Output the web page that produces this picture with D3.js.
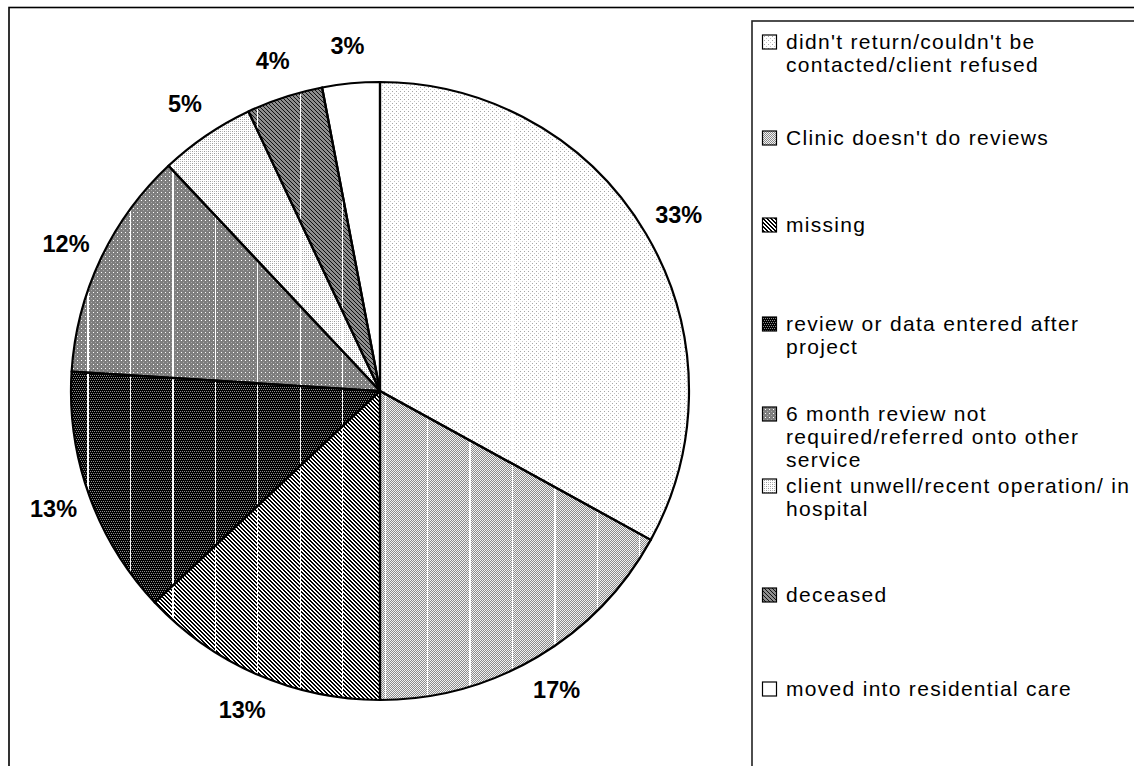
<!DOCTYPE html>
<html>
<head>
<meta charset="utf-8">
<script src="https://cdn.jsdelivr.net/npm/d3@7/dist/d3.min.js"></script>
<style>
  html, body { margin: 0; padding: 0; background: #fff; }
  svg { display: block; }
  text { font-family: "Liberation Sans", Arial, sans-serif; fill: #000; }
</style>
</head>
<body>
<svg id="chart" width="1134" height="766"></svg>
<script>
// Reasons a 6-month review did not take place (share of clients)
const categories = [
  "didn't return/couldn't be contacted/client refused",
  "Clinic doesn't do reviews",
  "missing",
  "review or data entered after project",
  "6 month review not required/referred onto other service",
  "client unwell/recent operation/ in hospital",
  "deceased",
  "moved into residential care"
];
const percents = [33, 17, 13, 13, 12, 5, 4, 3];
const labelText = ["33%", "17%", "13%", "13%", "12%", "5%", "4%", "3%"];
// Legend entries as wrapped on screen
const legendLines = [
  ["didn't return/couldn't be", "contacted/client refused"],
  ["Clinic doesn't do reviews"],
  ["missing"],
  ["review or data entered after", "project"],
  ["6 month review not", "required/referred onto other", "service"],
  ["client unwell/recent operation/ in", "hospital"],
  ["deceased"],
  ["moved into residential care"]
];

// ---- layout ----
const W = 1134, H = 766;
const cx = 380, cy = 391, R = 309;
const legendX = 752, legendY = 21;
const legendFirstBaseline = [49, 145, 232, 331, 421, 493, 602, 696];
const lineH = 23;

const svg = d3.select("#chart");
const defs = svg.append("defs");

// Monochrome pixel fills, one per category
const fills = [
  { size: 4, bg: "#ffffff", px: [[0,0,"#a4a4a4"],[2,2,"#c4c4c4"]] },
  { size: 2, bg: "#f2f2f2", px: [[0,0,"#8a8a8a"],[1,1,"#8a8a8a"]] },
  { size: 4, bg: "#ffffff", px: [[0,0,"#000"],[1,1,"#000"],[2,2,"#000"],[3,3,"#000"],
                                 [1,0,"#000"],[2,1,"#000"],[3,2,"#000"],[0,3,"#000"]] },
  { size: 4, bg: "#000000", px: [[0,0,"#8a8a8a"],[2,0,"#8a8a8a"],[1,2,"#8a8a8a"],[3,2,"#8a8a8a"]] },
  { size: 4, bg: "#7e7e7e", px: [[1,1,"#ffffff"],[3,3,"#a6a6a6"]] },
  { size: 4, bg: "#ffffff", px: [[0,0,"#9a9a9a"],[2,2,"#9a9a9a"],[2,0,"#c0c0c0"],[0,2,"#c0c0c0"]] },
  { size: 4, bg: "#8e8e8e", px: [[0,0,"#111"],[1,1,"#111"],[2,2,"#111"],[3,3,"#111"]] },
  { size: 4, bg: "#ffffff", px: [] }
];

fills.forEach((f, i) => {
  const p = defs.append("pattern")
    .attr("id", "fill" + i)
    .attr("patternUnits", "userSpaceOnUse")
    .attr("width", f.size).attr("height", f.size);
  p.append("rect").attr("width", f.size).attr("height", f.size)
    .attr("fill", f.bg).attr("shape-rendering", "crispEdges");
  f.px.forEach(([x, y, c]) => {
    p.append("rect").attr("x", x).attr("y", y).attr("width", 1).attr("height", 1)
      .attr("fill", c).attr("shape-rendering", "crispEdges");
  });
});

// Chart frame and legend frame (both run past the visible area)
svg.append("rect")
  .attr("x", 9).attr("y", 7.5).attr("width", W + 20).attr("height", H + 20)
  .attr("fill", "none").attr("stroke", "#000").attr("stroke-width", 1.6);
svg.append("rect")
  .attr("x", legendX).attr("y", legendY).attr("width", W).attr("height", H)
  .attr("fill", "#fff").attr("stroke", "#222").attr("stroke-width", 1.6);

// ---- pie ----
const pie = d3.pie().sort(null).value(d => d).startAngle(0).endAngle(2 * Math.PI);
const arcs = pie(percents);
const arc = d3.arc().innerRadius(0).outerRadius(R);

const g = svg.append("g").attr("transform", `translate(${cx},${cy})`);

g.selectAll("path.slice")
  .data(arcs)
  .join("path")
  .attr("class", "slice")
  .attr("d", arc)
  .attr("fill", (d, i) => `url(#fill${i})`);

// faint scan columns that cross the filled wedges
defs.append("clipPath").attr("id", "pieClip")
  .append("circle").attr("cx", cx).attr("cy", cy).attr("r", R - 1);
const colX = d3.range(88, cx + R, 42.45);
svg.append("g").attr("clip-path", "url(#pieClip)")
  .selectAll("line").data(colX).join("line")
  .attr("x1", d => d).attr("x2", d => d)
  .attr("y1", cy - R).attr("y2", cy + R)
  .attr("stroke", "#fff").attr("stroke-width", 1.2)
  .attr("shape-rendering", "crispEdges");

// slice outlines drawn above the fills
svg.append("g").attr("transform", `translate(${cx},${cy})`)
  .selectAll("path").data(arcs).join("path")
  .attr("d", arc)
  .attr("fill", "none")
  .attr("stroke", "#000").attr("stroke-width", 2.2)
  .attr("stroke-linejoin", "round");

// percentage labels outside the rim
const labelR = R + 38;
g.selectAll("text.pct")
  .data(arcs)
  .join("text")
  .attr("class", "pct")
  .attr("x", d => labelR * Math.sin((d.startAngle + d.endAngle) / 2))
  .attr("y", d => -labelR * Math.cos((d.startAngle + d.endAngle) / 2))
  .attr("dy", "0.36em")
  .attr("text-anchor", "middle")
  .attr("font-size", 23.5)
  .attr("font-weight", "bold")
  .text((d, i) => labelText[i]);

// ---- legend ----
const leg = svg.append("g");
legendLines.forEach((lines, i) => {
  const base = legendFirstBaseline[i];
  leg.append("rect")
    .attr("x", 762.5).attr("y", base - 14)
    .attr("width", 14).attr("height", 14)
    .attr("fill", `url(#fill${i})`)
    .attr("stroke", "#000").attr("stroke-width", 1.2);
  lines.forEach((ln, k) => {
    leg.append("text")
      .attr("x", 786).attr("y", base + k * lineH)
      .attr("font-size", 21)
      .attr("letter-spacing", 1.3)
      .text(ln);
  });
});
</script>
</body>
</html>
